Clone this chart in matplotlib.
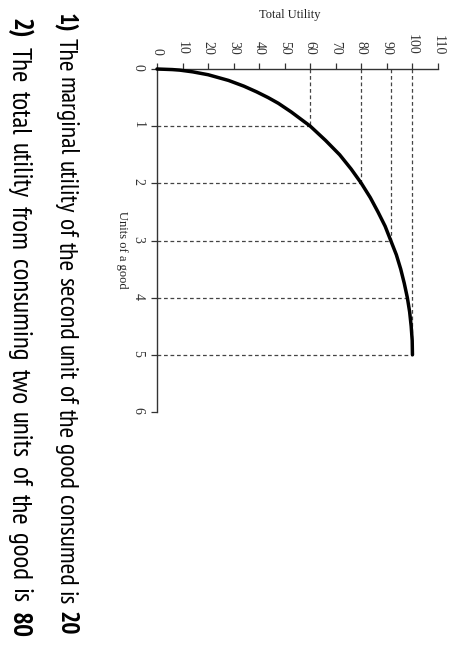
import matplotlib
matplotlib.use('Agg')
import matplotlib.pyplot as plt

# points marked on the chart (units consumed -> total utility)
units = [1, 2, 3, 4, 5]
total_utility = [60, 80, 91.5, 98, 100]
guide_to_axis = [True, True, True, False, True]

# total utility curve
curve_units = [0, 0.01, 0.02, 0.05, 0.1, 0.15, 0.2, 0.3, 0.4, 0.5, 0.6, 0.75,
               0.9, 1, 1.25, 1.5, 1.75, 2, 2.25, 2.5, 2.75, 3, 3.25, 3.5,
               3.75, 4, 4.25, 4.5, 4.75, 5]
curve_utility = [0, 6, 9, 14, 20, 24, 28, 34, 39, 43.5, 47.5, 52.5,
                 57, 60, 66, 71.5, 76, 80, 83.5, 86.5, 89.3, 91.5, 93.7, 95.4,
                 96.8, 98, 98.9, 99.5, 99.9, 100]

utility_ticks = list(range(0, 111, 10))
unit_ticks = list(range(0, 7))

questions = [
    [('1)', 'bold'), ('The marginal utility of the second unit of the good consumed is', 'normal'), ('20', 'bold')],
    [('2)', 'bold'), ('The total utility from consuming two units of the good is', 'normal'), ('80', 'bold')],
]

W, H = 449, 646
fig = plt.figure(figsize=(W / 100, H / 100), dpi=100)
ax = fig.add_axes([157 / W, 1 - 412 / H, 281 / W, 343 / H])

serif = 'Liberation Serif'
axis_col = '#333333'
dash = (0, (3, 2.2))

ax.plot(curve_utility, curve_units, color='black', lw=2.5,
        solid_capstyle='round', solid_joinstyle='round', clip_on=False, zorder=3)
for u, tu, up in zip(units, total_utility, guide_to_axis):
    ax.plot([0, tu], [u, u], ls=dash, color='#444444', lw=0.9)
    if up:
        ax.plot([tu, tu], [0, u], ls=dash, color='#444444', lw=0.9)

ax.set_xlim(0, 110)
ax.set_ylim(6, 0)
ax.set_xticks(utility_ticks)
ax.set_yticks(unit_ticks)
ax.xaxis.set_ticks_position('top')
for side in ('right', 'bottom'):
    ax.spines[side].set_visible(False)
for side in ('left', 'top'):
    ax.spines[side].set_color(axis_col)
    ax.spines[side].set_linewidth(1.0)
ax.tick_params(axis='x', direction='out', length=4, width=0.9, pad=6,
               labelrotation=-90, colors=axis_col, labelsize=10)
ax.tick_params(axis='y', direction='out', length=4, width=0.9, pad=5,
               labelrotation=-90, colors=axis_col, labelsize=10)
for lab in ax.get_xticklabels() + ax.get_yticklabels():
    lab.set_family(serif)

fig.text(290 / W, 1 - 15 / H, 'Total Utility', ha='center', va='center',
         family=serif, fontsize=9, color='#222222')
fig.text(122 / W, 1 - 250 / H, 'Units of a good', rotation=-90, ha='center',
         va='center', family=serif, fontsize=9, color='#222222')

# question lines run top to bottom like the rotated chart; words are spread
# (justified) between the line's first and last pixel as in the picture
renderer = fig.canvas.get_renderer()
lines_px = [(59, 13, 635, 18.5), (12, 18, 638, 19.5)]  # baseline x, top y, bottom y, size
for (x_px, y0, y1, size), parts in zip(lines_px, questions):
    words = [(w, weight) for s, weight in parts for w in s.split()]
    texts = [fig.text(x_px / W, 0.5, w, rotation=-90, rotation_mode='anchor',
                      ha='left', va='baseline', fontsize=size, fontweight=weight,
                      family=['PT Sans Narrow', 'DejaVu Sans'], color='black')
             for w, weight in words]
    lengths = [t.get_window_extent(renderer).height for t in texts]
    gap = (y1 - y0 - sum(lengths)) / (len(texts) - 1)
    y = y0
    for t, length in zip(texts, lengths):
        t.set_y(1 - y / H)
        y += length + gap

fig.savefig('out.png', dpi=100)
